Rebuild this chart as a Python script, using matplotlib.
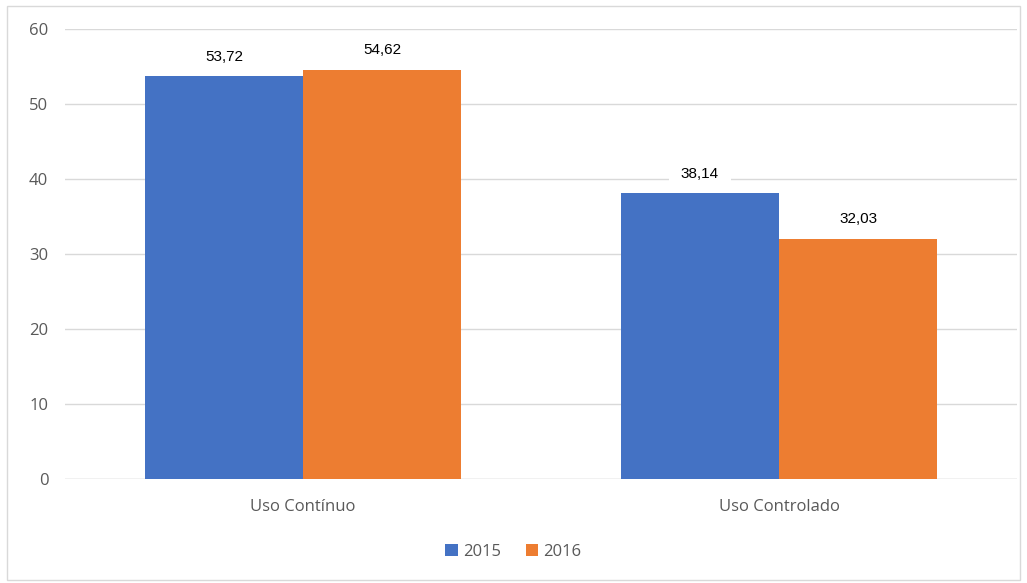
import numpy as np
import matplotlib.pyplot as plt
from matplotlib.patches import Rectangle

categorias = ["Uso Contínuo", "Uso Controlado"]
anos = ["2015", "2016"]
valores_2015 = [53.72, 38.14]
valores_2016 = [54.62, 32.03]

azul = "#4472C4"
laranja = "#ED7D31"

fig = plt.figure(figsize=(10.27, 5.83), dpi=100)
ax = fig.add_axes([0.0633, 0.178, 0.927, 0.772])

x = np.arange(len(categorias))
w = 0.332

b1 = ax.bar(x - w / 2, valores_2015, w, color=azul, label=anos[0], zorder=3)
b2 = ax.bar(x + w / 2, valores_2016, w, color=laranja, label=anos[1], zorder=3)

for bars in (b1, b2):
    for b in bars:
        v = b.get_height()
        ax.annotate(f"{v:.2f}".replace(".", ","),
                    (b.get_x() + b.get_width() / 2, v),
                    xytext=(0, 9), textcoords="offset points",
                    ha="center", va="bottom", fontsize=11,
                    family="Liberation Sans", color="black", zorder=4,
                    bbox=dict(boxstyle="square,pad=0.8", fc="white", ec="none"))

ax.set_xlim(-0.5, 1.5)
ax.set_ylim(0, 60)
ax.set_yticks(range(0, 61, 10))
ax.set_xticks(x)
ax.set_xticklabels(categorias)
ax.yaxis.grid(True, color="#d9d9d9", lw=1, zorder=0)
for s in ax.spines.values():
    s.set_visible(False)
ax.axhline(0, color="#d9d9d9", lw=1, zorder=2)
ax.tick_params(length=0, labelsize=12, labelcolor="#595959", pad=12)
ax.tick_params(axis="x", pad=14)
for t in ax.get_xticklabels() + ax.get_yticklabels():
    t.set_family("Open Sans")

leg = fig.legend(loc="center", bbox_to_anchor=(0.5, 0.053), ncol=2, frameon=False,
                 handlelength=0.75, handleheight=0.75, handletextpad=0.3,
                 columnspacing=1.5, prop={"family": "Open Sans", "size": 12})
for t in leg.get_texts():
    t.set_color("#595959")

fig.patches.append(Rectangle((0.007, 0.005), 0.986, 0.985, transform=fig.transFigure,
                             fill=False, ec="#d9d9d9", lw=1))

fig.savefig("out.png", dpi=100)
